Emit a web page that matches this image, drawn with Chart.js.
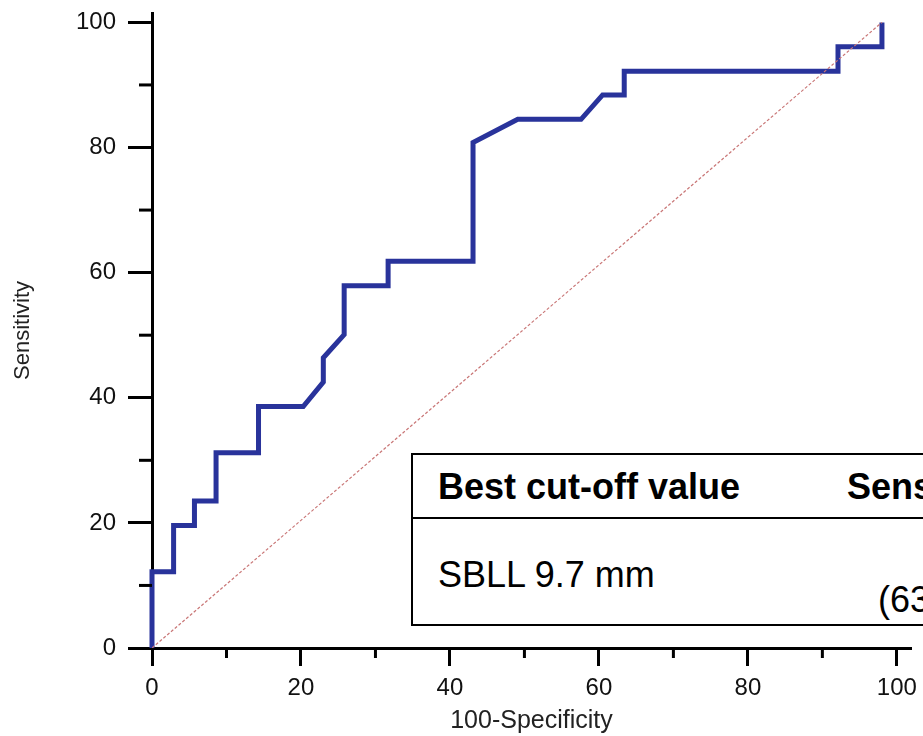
<!DOCTYPE html>
<html>
<head>
<meta charset="utf-8">
<title>ROC curve</title>
<script src="https://cdn.jsdelivr.net/npm/chart.js@4.4.1/dist/chart.umd.min.js"></script>
<style>
  html, body { margin: 0; padding: 0; background: #fff; overflow: hidden; }
  #wrap { position: relative; width: 923px; height: 736px; overflow: hidden; }
  #roc { display: block; }
  .cutoff {
    position: absolute; left: 411px; top: 453px; width: 720px; height: 173px;
    border: 2px solid #000; box-sizing: border-box; background: #fff;
    font-family: 'Liberation Sans', Arial, sans-serif; font-size: 36px; color: #000;
  }
  .cutoff span { position: absolute; line-height: 1; white-space: nowrap; }
  .cutoff .head { font-weight: bold; }
  .cutoff .rule { position: absolute; left: 0; right: 0; top: 62px; height: 0; border-top: 2px solid #000; }
</style>
</head>
<body>
<div id="wrap">
  <canvas id="roc" width="923" height="736"></canvas>
  <div class="cutoff">
    <span class="head" style="left:25px; top:14px;">Best cut-off value</span>
    <span class="head" style="left:434px; top:14px;">Sensitivity</span>
    <div class="rule"></div>
    <span style="left:25px; top:102px;">SBLL 9.7 mm</span>
    <span style="left:465px; top:127px;">(63</span>
  </div>
</div>
<script>
// ROC curve vertices (100-Specificity, Sensitivity)
const rocX = [0, 0, 2.9, 2.9, 5.7, 5.7, 8.6, 8.6, 14.3, 14.3, 20.3, 23.0, 23.0, 25.8, 25.8,
  31.7, 31.7, 43.1, 43.1, 49.1, 57.6, 60.5, 63.4, 63.4, 92.1, 92.1, 98.0, 98.0];
const rocY = [0, 12.2, 12.2, 19.6, 19.6, 23.5, 23.5, 31.2, 31.2, 38.6, 38.6, 42.5, 46.4, 50.1, 57.9,
  57.9, 61.8, 61.8, 80.8, 84.5, 84.5, 88.4, 88.4, 92.2, 92.2, 96.1, 96.1, 100];

// reference (chance) line
const diagX = [0, 98];
const diagY = [0, 100];

// axis ticks, same for both axes
const tickValues = [0, 10, 20, 30, 40, 50, 60, 70, 80, 90, 100];
const tickLabels = ['0', '', '20', '', '40', '', '60', '', '80', '', '100'];

const fontFamily = "'Liberation Sans', Arial, sans-serif";

function isMajor(v) {
  return tickLabels[tickValues.indexOf(v)] !== '';
}

// Chart.js only draws one tick length, so the short minor ticks are drawn here
const minorTicks = {
  id: 'minorTicks',
  afterDraw(chart) {
    const ctx = chart.ctx;
    const xs = chart.scales.x;
    const ys = chart.scales.y;
    ctx.save();
    ctx.strokeStyle = '#000';
    ctx.lineWidth = 3;
    tickValues.forEach(v => {
      if (isMajor(v)) return;
      const px = xs.getPixelForValue(v);
      ctx.beginPath();
      ctx.moveTo(px, xs.top);
      ctx.lineTo(px, xs.top + 10);
      ctx.stroke();
      const py = ys.getPixelForValue(v);
      ctx.beginPath();
      ctx.moveTo(ys.right, py);
      ctx.lineTo(ys.right - 13, py);
      ctx.stroke();
    });
    ctx.restore();
  }
};

function axisOptions(max, tickLength, labelPad, titleText, titleSize, titlePad) {
  return {
    type: 'linear',
    min: 0,
    max: max,
    afterBuildTicks: scale => {
      scale.ticks = tickValues.map(v => ({ value: v }));
    },
    ticks: {
      autoSkip: false,
      maxRotation: 0,
      padding: labelPad,
      color: '#111',
      font: { family: fontFamily, size: 24 },
      callback: v => tickLabels[tickValues.indexOf(v)] || ''
    },
    grid: {
      display: true,
      drawOnChartArea: false,
      drawTicks: true,
      tickLength: tickLength,
      tickWidth: 3,
      tickColor: ctx => (ctx.tick && isMajor(ctx.tick.value)) ? '#000' : 'rgba(0,0,0,0)'
    },
    border: { display: true, color: '#000', width: 3 },
    title: {
      display: true,
      text: titleText,
      color: '#222',
      font: { family: fontFamily, size: titleSize },
      padding: titlePad
    }
  };
}

const xAxis = axisOptions(101.9, 18, 8, '100-Specificity', 25, { top: 0, bottom: 0 });
xAxis.afterFit = s => { s.height = 88; s.paddingLeft = 0; s.paddingRight = 0; };
const yAxis = axisOptions(101.5, 24, 12, 'Sensitivity', 22, { top: 10, bottom: 0 });
yAxis.afterFit = s => { s.width = 152; s.paddingTop = 0; s.paddingBottom = 0; };

new Chart(document.getElementById('roc'), {
  type: 'line',
  data: {
    datasets: [
      {
        label: 'ROC',
        data: rocX.map((x, i) => ({ x: x, y: rocY[i] })),
        borderColor: '#29339B',
        borderWidth: 5,
        borderJoinStyle: 'miter',
        pointRadius: 0,
        tension: 0,
        fill: false,
        clip: false,
        order: 1
      },
      {
        label: 'Reference',
        data: diagX.map((x, i) => ({ x: x, y: diagY[i] })),
        borderColor: '#C97676',
        borderWidth: 1.2,
        borderDash: [3, 2],
        pointRadius: 0,
        fill: false,
        order: 0
      }
    ]
  },
  options: {
    responsive: false,
    animation: false,
    devicePixelRatio: 1,
    layout: { padding: { left: 0, top: 13, right: 12, bottom: 0 } },
    plugins: {
      legend: { display: false },
      tooltip: { enabled: false }
    },
    scales: { x: xAxis, y: yAxis }
  },
  plugins: [minorTicks]
});
</script>
</body>
</html>
